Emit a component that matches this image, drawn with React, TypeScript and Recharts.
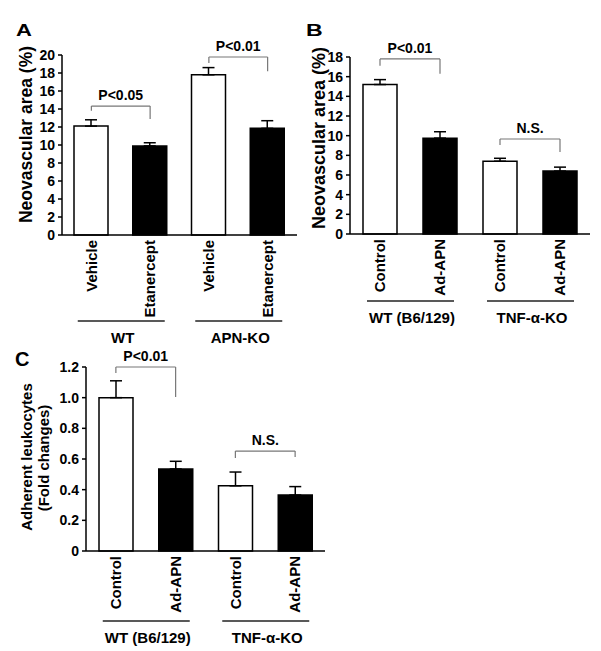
import React from 'react';
import { Bar, BarChart, Cell, ErrorBar, ReferenceLine, XAxis, YAxis } from 'recharts';

const FONT = "Arial, 'Liberation Sans', sans-serif";

// panel A
const A_IDS = ['wtVeh', 'wtEta', 'koVeh', 'koEta'];
const A_LABELS = ['Vehicle', 'Etanercept', 'Vehicle', 'Etanercept'];
const A_GROUPS = ['WT', 'WT', 'APN-KO', 'APN-KO'];
const A_VALUES = [12.1, 9.9, 17.8, 11.85];
const A_ERRORS = [0.7, 0.35, 0.8, 0.85];
const A_TICKS = [0, 2, 4, 6, 8, 10, 12, 14, 16, 18, 20];
const A_BRACKETS = [
  { from: 'wtVeh', to: 'wtEta', top: 14.33, fromEnd: 13.8, toEnd: 12.9, text: 'P<0.05' },
  { from: 'koVeh', to: 'koEta', top: 19.78, fromEnd: 19.1, toEnd: 18.2, text: 'P<0.01' },
];

// panel B
const B_IDS = ['wtCtl', 'wtAd', 'tnfCtl', 'tnfAd'];
const B_LABELS = ['Control', 'Ad-APN', 'Control', 'Ad-APN'];
const B_GROUPS = ['WT (B6/129)', 'WT (B6/129)', 'TNF-α-KO', 'TNF-α-KO'];
const B_VALUES = [15.2, 9.75, 7.4, 6.4];
const B_ERRORS = [0.5, 0.65, 0.3, 0.4];
const B_TICKS = [0, 2, 4, 6, 8, 10, 12, 14, 16, 18];
const B_BRACKETS = [
  { from: 'wtCtl', to: 'wtAd', top: 17.8, fromEnd: 17.1, toEnd: 16.3, text: 'P<0.01' },
  { from: 'tnfCtl', to: 'tnfAd', top: 9.66, fromEnd: 9.05, toEnd: 8.34, text: 'N.S.' },
];

// panel C
const C_IDS = ['wtCtl', 'wtAd', 'tnfCtl', 'tnfAd'];
const C_LABELS = ['Control', 'Ad-APN', 'Control', 'Ad-APN'];
const C_GROUPS = ['WT (B6/129)', 'WT (B6/129)', 'TNF-α-KO', 'TNF-α-KO'];
const C_VALUES = [1.0, 0.535, 0.425, 0.365];
const C_ERRORS = [0.11, 0.05, 0.09, 0.055];
const C_TICKS = [0, 0.2, 0.4, 0.6, 0.8, 1.0, 1.2];
const C_BRACKETS = [
  { from: 'wtCtl', to: 'wtAd', top: 1.2, fromEnd: 1.161, toEnd: 1.004, text: 'P<0.01' },
  { from: 'tnfCtl', to: 'tnfAd', top: 0.652, fromEnd: 0.607, toEnd: 0.613, text: 'N.S.' },
];

const FILLS = ['#fff', '#000', '#fff', '#000'];

type Bracket = { from: string; to: string; top: number; fromEnd: number; toEnd: number; text: string };

function rows(ids: string[], groups: string[], values: number[], errors: number[]) {
  return ids.map((id, i) => ({ id, group: groups[i], value: values[i], err: [0, errors[i]] }));
}

function RotTick(props: any) {
  const { x, y, payload, labels } = props;
  return (
    <text
      transform={`translate(${x},${y}) rotate(-90)`}
      textAnchor="end"
      dy="0.35em"
      fontSize={15}
      fontWeight="bold"
      fontFamily={FONT}
      fill="#000"
    >
      {labels[payload.index]}
    </text>
  );
}

function GroupTick(props: any) {
  const { x, y, payload } = props;
  return (
    <g>
      <line x1={x - 43} x2={x + 44} y1={y + 1} y2={y + 1} stroke="#222" strokeWidth={1.5} />
      <text x={x + 2} y={y + 23} textAnchor="middle" fontSize={15} fontWeight="bold" fontFamily={FONT} fill="#000">
        {payload.value}
      </text>
    </g>
  );
}

function bracketLines(b: Bracket) {
  const common = { xAxisId: 0, stroke: '#777', strokeWidth: 1.2, ifOverflow: 'visible' as const };
  return [
    <ReferenceLine
      key={b.text + 'top'}
      {...common}
      segment={[{ x: b.from, y: b.top }, { x: b.to, y: b.top }]}
      label={{ value: b.text, position: 'top', offset: 6, fill: '#000', fontSize: 14, fontWeight: 'bold', fontFamily: FONT }}
    />,
    <ReferenceLine key={b.text + 'l'} {...common} segment={[{ x: b.from, y: b.top }, { x: b.from, y: b.fromEnd }]} />,
    <ReferenceLine key={b.text + 'r'} {...common} segment={[{ x: b.to, y: b.top }, { x: b.to, y: b.toEnd }]} />,
  ];
}

type PanelProps = {
  data: ReturnType<typeof rows>;
  labels: string[];
  ticks: number[];
  brackets: Bracket[];
  width: number;
  height: number;
  top: number;
  right: number;
  yWidth: number;
  xHeight: number;
  fmt?: (v: number) => string;
};

function Panel({ data, labels, ticks, brackets, width, height, top, right, yWidth, xHeight, fmt }: PanelProps) {
  return (
    <BarChart width={width} height={height} data={data} margin={{ top, right, left: 0, bottom: 0 }} barSize={34}>
      <XAxis
        xAxisId={0}
        dataKey="id"
        height={xHeight}
        stroke="#000"
        strokeWidth={1.5}
        tickLine={false}
        tickSize={0}
        tickMargin={5}
        interval={0}
        tick={(p: any) => <RotTick {...p} labels={labels} />}
      />
      <XAxis
        xAxisId={1}
        dataKey="group"
        allowDuplicatedCategory={false}
        height={30}
        axisLine={false}
        tickLine={false}
        tickSize={0}
        tickMargin={0}
        interval={0}
        tick={(p: any) => <GroupTick {...p} />}
      />
      <YAxis
        width={yWidth}
        domain={[ticks[0], ticks[ticks.length - 1]]}
        ticks={ticks}
        interval={0}
        stroke="#000"
        strokeWidth={1.5}
        tickSize={4}
        tickMargin={3}
        tickFormatter={fmt}
        tick={{ fill: '#000', fontSize: 14, fontWeight: 'bold', fontFamily: FONT }}
      />
      <Bar xAxisId={0} dataKey="value" stroke="#000" strokeWidth={1.5} isAnimationActive={false}>
        {data.map((d, i) => (
          <Cell key={d.id} fill={FILLS[i]} />
        ))}
        <ErrorBar dataKey="err" direction="y" width={6} stroke="#000" strokeWidth={1.5} />
      </Bar>
      {brackets.flatMap(bracketLines)}
    </BarChart>
  );
}

const dataA = rows(A_IDS, A_GROUPS, A_VALUES, A_ERRORS);
const dataB = rows(B_IDS, B_GROUPS, B_VALUES, B_ERRORS);
const dataC = rows(C_IDS, C_GROUPS, C_VALUES, C_ERRORS);

const titleStyle = { fontFamily: FONT, fontWeight: 'bold' as const, fill: '#000' };

export default function App() {
  return (
    <div style={{ position: 'absolute', left: 0, top: 0, width: 601, height: 651, background: '#fff', fontFamily: FONT }}>
      <div style={{ position: 'absolute', left: 0, top: 0 }}>
        <Panel data={dataA} labels={A_LABELS} ticks={A_TICKS} brackets={A_BRACKETS}
          width={300} height={350} top={55} right={3} yWidth={62} xHeight={85} />
      </div>
      <div style={{ position: 'absolute', left: 290, top: 0 }}>
        <Panel data={dataB} labels={B_LABELS} ticks={B_TICKS} brackets={B_BRACKETS}
          width={311} height={330} top={57} right={11} yWidth={60} xHeight={66} />
      </div>
      <div style={{ position: 'absolute', left: 0, top: 310 }}>
        <Panel data={dataC} labels={C_LABELS} ticks={C_TICKS} brackets={C_BRACKETS}
          width={340} height={340} top={57} right={15} yWidth={86} xHeight={69}
          fmt={(v) => (v === 0 ? '0' : v.toFixed(1))} />
      </div>
      <svg width={601} height={651} style={{ position: 'absolute', left: 0, top: 0, pointerEvents: 'none' }}>
        <text transform="translate(16,36) scale(1.05,0.78)" fontSize={21} {...titleStyle}>A</text>
        <text transform="translate(306,36) scale(1.1,0.78)" fontSize={21} {...titleStyle}>B</text>
        <text transform="translate(15,366)" fontSize={20} {...titleStyle}>C</text>
        <text transform="translate(32,134.5) rotate(-90)" textAnchor="middle" fontSize={17.5} {...titleStyle}>
          Neovascular area (%)
        </text>
        <text transform="translate(325,138) rotate(-90)" textAnchor="middle" fontSize={18} {...titleStyle}>
          Neovascular area (%)
        </text>
        <text transform="translate(32,457) rotate(-90)" textAnchor="middle" fontSize={15} {...titleStyle}>
          Adherent leukocytes
        </text>
        <text transform="translate(49,458) rotate(-90)" textAnchor="middle" fontSize={15} {...titleStyle}>
          (Fold changes)
        </text>
      </svg>
    </div>
  );
}
